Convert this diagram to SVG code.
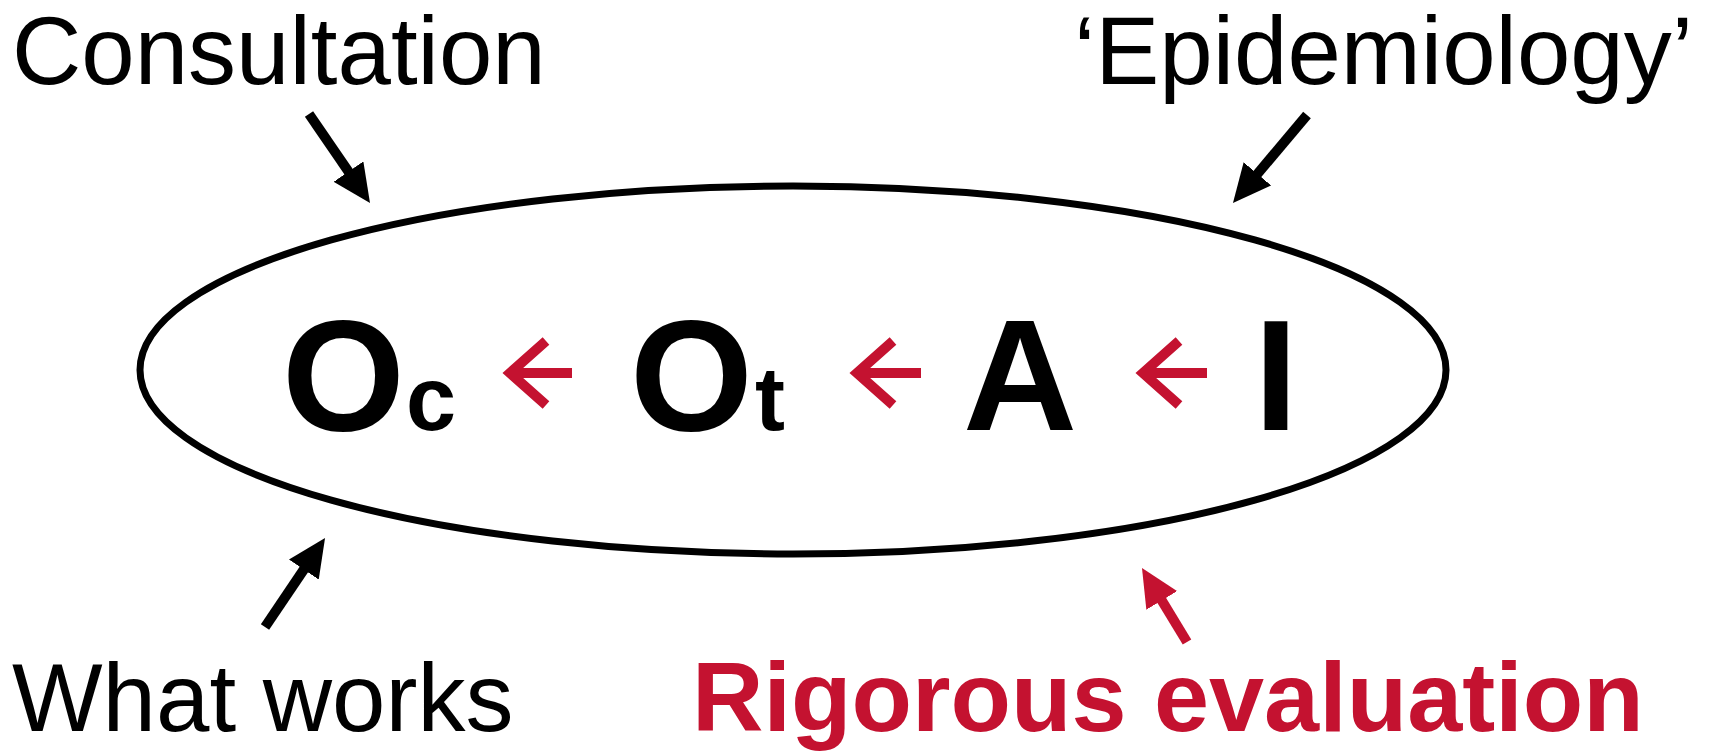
<svg xmlns="http://www.w3.org/2000/svg" width="1720" height="751" viewBox="0 0 1720 751">
  <style>
    .lbl { font-family: "Liberation Sans", Arial, sans-serif; font-size: 96px; fill: #000; }
    .red { fill: #C41230; font-weight: bold; font-size: 99px; }
    .big { font-family: "Liberation Sans", Arial, sans-serif; font-weight: bold; font-size: 158px; fill: #000; }
    .sub { font-family: "Liberation Sans", Arial, sans-serif; font-weight: bold; font-size: 90px; fill: #000; }
    .blk { stroke: #000; stroke-width: 10; fill: none; }
    .rdl { stroke: #C41230; stroke-width: 10; fill: none; }
    .chev { stroke: #C41230; stroke-width: 10; fill: none; stroke-linejoin: miter; }
  </style>
  <defs>
    <marker id="hb" markerUnits="userSpaceOnUse" markerWidth="38" markerHeight="36" refX="12" refY="18" orient="auto" viewBox="0 0 38 36">
      <path d="M0,0 L38,18 L0,36 Z" fill="#000"/>
    </marker>
    <marker id="hr" markerUnits="userSpaceOnUse" markerWidth="38" markerHeight="36" refX="12" refY="18" orient="auto" viewBox="0 0 38 36">
      <path d="M0,0 L38,18 L0,36 Z" fill="#C41230"/>
    </marker>
  </defs>
  <rect width="1720" height="751" fill="#fff"/>

  <g id="ellipse">
    <ellipse cx="793" cy="370" rx="653" ry="184" fill="none" stroke="#000" stroke-width="7"/>
  </g>

  <g id="consultation"><text class="lbl" x="12" y="84">Consultation</text></g>
  <g id="epidemiology"><text class="lbl" x="1074" y="84">‘Epidemiology’</text></g>
  <g id="what-works"><text class="lbl" x="12" y="731">What works</text></g>
  <g id="rigorous-evaluation"><text class="lbl red" x="692" y="731">Rigorous evaluation</text></g>

  <g id="node-oc"><text class="big" x="282" y="430">O</text><text class="sub" x="406" y="430">c</text></g>
  <g id="node-ot"><text class="big" x="630" y="430">O</text><text class="sub" x="755" y="430">t</text></g>
  <g id="node-a"><text class="big" x="963" y="430">A</text></g>
  <g id="node-i"><text class="big" x="1254" y="430">I</text></g>

  <g id="connectors">
    <line class="blk" x1="309" y1="114" x2="355.3" y2="181.5" marker-end="url(#hb)"/>
    <line class="blk" x1="1307" y1="115" x2="1249.7" y2="183.1" marker-end="url(#hb)"/>
    <line class="blk" x1="265" y1="627" x2="310.5" y2="559.6" marker-end="url(#hb)"/>
    <line class="rdl" x1="1187" y1="642" x2="1155.5" y2="590.2" marker-end="url(#hr)"/>
    <path class="chev" d="M546,341 L510,373 L546,405 M510,373 L572,373"/>
    <path class="chev" d="M893,341 L857,373 L893,405 M857,373 L921,373"/>
    <path class="chev" d="M1179,341 L1143,373 L1179,405 M1143,373 L1207,373"/>
  </g>
</svg>
